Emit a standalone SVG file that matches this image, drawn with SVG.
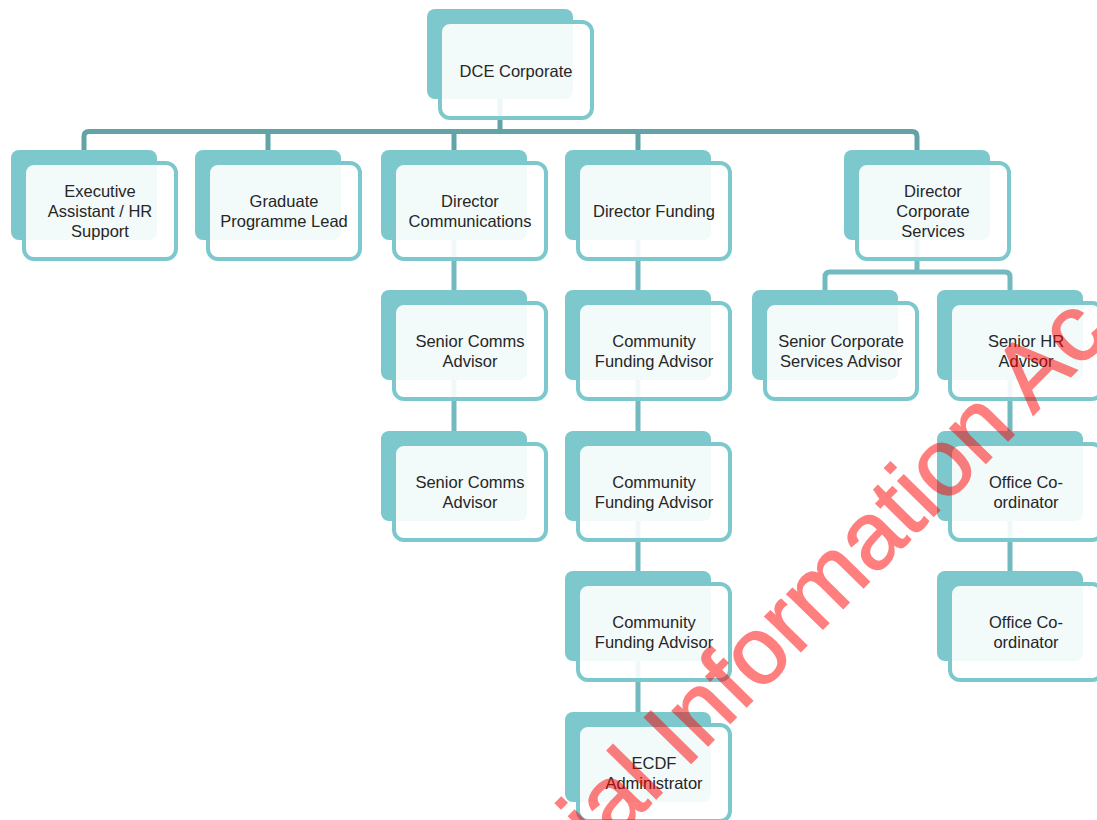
<svg xmlns="http://www.w3.org/2000/svg" width="1097" height="820" viewBox="0 0 1097 820">
<defs>
<style>
.back{fill:#7cc8cc}
.front{fill:#ffffff;fill-opacity:0.9;stroke:#7cc8cc;stroke-width:4}
.lbl{font-family:"Liberation Sans",Arial,sans-serif;font-size:16.5px;fill:#262626;text-anchor:middle}
.c1{fill:none;stroke:#62a3a8;stroke-width:5;stroke-linejoin:round}
.c2{fill:none;stroke:#72babf;stroke-width:5;stroke-linejoin:round}
.wm{font-family:"Liberation Sans",Arial,sans-serif;font-size:95px;fill:#ff0000;stroke:#ff0000;stroke-width:1.5}
</style>
</defs>
<rect width="1097" height="820" fill="#ffffff"/>
<g id="connectors">
<path class="c1" d="M500,99 V131.5 M84,150 V136.5 Q84,131.5 89,131.5 H912 Q917,131.5 917,136.5 V150 M268,131.5 V150 M454,131.5 V150 M638,131.5 V150"/>
<path class="c2" d="M917,240 V272 M825,290 V277 Q825,272 830,272 H1005 Q1010,272 1010,277 V290"/>
<path class="c2" d="M454,240 V290 M454,380 V431"/>
<path class="c2" d="M638,240 V290 M638,380 V431 M638,521 V571 M638,661 V712"/>
<path class="c2" d="M1010,380 V431 M1010,521 V571"/>
</g>
<g id="n-dce">
<rect class="back" x="427" y="9" width="146" height="90" rx="8"/>
<rect class="front" x="440" y="22" width="152" height="96" rx="10"/>
<text class="lbl" x="516" y="76.5">DCE Corporate</text>
</g>
<g id="n-exec">
<rect class="back" x="11" y="150" width="146" height="90" rx="8"/>
<rect class="front" x="24" y="163" width="152" height="96" rx="10"/>
<text class="lbl" x="100" y="196.5">Executive</text>
<text class="lbl" x="100" y="216.5">Assistant / HR</text>
<text class="lbl" x="100" y="236.5">Support</text>
</g>
<g id="n-grad">
<rect class="back" x="195" y="150" width="146" height="90" rx="8"/>
<rect class="front" x="208" y="163" width="152" height="96" rx="10"/>
<text class="lbl" x="284" y="206.5">Graduate</text>
<text class="lbl" x="284" y="226.5">Programme Lead</text>
</g>
<g id="n-dircomms">
<rect class="back" x="381" y="150" width="146" height="90" rx="8"/>
<rect class="front" x="394" y="163" width="152" height="96" rx="10"/>
<text class="lbl" x="470" y="206.5">Director</text>
<text class="lbl" x="470" y="226.5">Communications</text>
</g>
<g id="n-dirfunding">
<rect class="back" x="565" y="150" width="146" height="90" rx="8"/>
<rect class="front" x="578" y="163" width="152" height="96" rx="10"/>
<text class="lbl" x="654" y="216.5">Director Funding</text>
</g>
<g id="n-dircorp">
<rect class="back" x="844" y="150" width="146" height="90" rx="8"/>
<rect class="front" x="857" y="163" width="152" height="96" rx="10"/>
<text class="lbl" x="933" y="196.5">Director</text>
<text class="lbl" x="933" y="216.5">Corporate</text>
<text class="lbl" x="933" y="236.5">Services</text>
</g>
<g id="n-sca1">
<rect class="back" x="381" y="290" width="146" height="90" rx="8"/>
<rect class="front" x="394" y="303" width="152" height="96" rx="10"/>
<text class="lbl" x="470" y="346.5">Senior Comms</text>
<text class="lbl" x="470" y="366.5">Advisor</text>
</g>
<g id="n-sca2">
<rect class="back" x="381" y="431" width="146" height="90" rx="8"/>
<rect class="front" x="394" y="444" width="152" height="96" rx="10"/>
<text class="lbl" x="470" y="487.5">Senior Comms</text>
<text class="lbl" x="470" y="507.5">Advisor</text>
</g>
<g id="n-cfa1">
<rect class="back" x="565" y="290" width="146" height="90" rx="8"/>
<rect class="front" x="578" y="303" width="152" height="96" rx="10"/>
<text class="lbl" x="654" y="346.5">Community</text>
<text class="lbl" x="654" y="366.5">Funding Advisor</text>
</g>
<g id="n-cfa2">
<rect class="back" x="565" y="431" width="146" height="90" rx="8"/>
<rect class="front" x="578" y="444" width="152" height="96" rx="10"/>
<text class="lbl" x="654" y="487.5">Community</text>
<text class="lbl" x="654" y="507.5">Funding Advisor</text>
</g>
<g id="n-cfa3">
<rect class="back" x="565" y="571" width="146" height="90" rx="8"/>
<rect class="front" x="578" y="584" width="152" height="96" rx="10"/>
<text class="lbl" x="654" y="627.5">Community</text>
<text class="lbl" x="654" y="647.5">Funding Advisor</text>
</g>
<g id="n-ecdf">
<rect class="back" x="565" y="712" width="146" height="90" rx="8"/>
<rect class="front" x="578" y="725" width="152" height="96" rx="10"/>
<text class="lbl" x="654" y="768.5">ECDF</text>
<text class="lbl" x="654" y="788.5">Administrator</text>
</g>
<g id="n-scsa">
<rect class="back" x="752" y="290" width="146" height="90" rx="8"/>
<rect class="front" x="765" y="303" width="152" height="96" rx="10"/>
<text class="lbl" x="841" y="346.5">Senior Corporate</text>
<text class="lbl" x="841" y="366.5">Services Advisor</text>
</g>
<g id="n-shra">
<rect class="back" x="937" y="290" width="146" height="90" rx="8"/>
<rect class="front" x="950" y="303" width="152" height="96" rx="10"/>
<text class="lbl" x="1026" y="346.5">Senior HR</text>
<text class="lbl" x="1026" y="366.5">Advisor</text>
</g>
<g id="n-oc1">
<rect class="back" x="937" y="431" width="146" height="90" rx="8"/>
<rect class="front" x="950" y="444" width="152" height="96" rx="10"/>
<text class="lbl" x="1026" y="487.5">Office Co-</text>
<text class="lbl" x="1026" y="507.5">ordinator</text>
</g>
<g id="n-oc2">
<rect class="back" x="937" y="571" width="146" height="90" rx="8"/>
<rect class="front" x="950" y="584" width="152" height="96" rx="10"/>
<text class="lbl" x="1026" y="627.5">Office Co-</text>
<text class="lbl" x="1026" y="647.5">ordinator</text>
</g>
<g id="watermark" opacity="0.5">
<text class="wm" transform="translate(600,856) rotate(-45.5)">ial Information Ac</text>
</g>
</svg>
